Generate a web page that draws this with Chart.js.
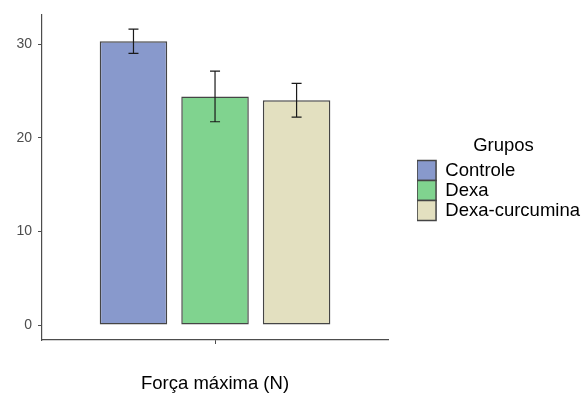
<!DOCTYPE html>
<html>
<head>
<meta charset="utf-8">
<script src="https://cdn.jsdelivr.net/npm/chart.js@4.4.1/dist/chart.umd.min.js"></script>
<style>
  html, body { margin: 0; padding: 0; background: #fff; }
  #wrap { width: 585px; height: 398px; }
</style>
</head>
<body>
<div id="wrap"><canvas id="myChart"></canvas></div>
<script>
var categories = [""];
var groups = ["Controle", "Dexa", "Dexa-curcumina"];
var means = [30.3, 24.4, 24.0];
var errors = [1.3, 2.7, 1.8];
var yTicks = [0, 10, 20, 30];

var barColors = ["#8899CC", "#80D38F", "#E3E0C0"];
var font = "'Liberation Sans', Arial, sans-serif";

// error bars drawn from the errors array through the y scale
var errorBars = {
  id: "errorBars",
  afterDatasetsDraw: function(chart) {
    var ctx = chart.ctx;
    var y = chart.scales.y;
    ctx.save();
    ctx.strokeStyle = "#1a1a1a";
    ctx.lineWidth = 1.2;
    chart.data.datasets.forEach(function(ds, i) {
      var bar = chart.getDatasetMeta(i).data[0];
      var top = y.getPixelForValue(ds.data[0] + errors[i]);
      var bot = y.getPixelForValue(ds.data[0] - errors[i]);
      ctx.beginPath();
      ctx.moveTo(bar.x, top); ctx.lineTo(bar.x, bot);
      ctx.moveTo(bar.x - 5, top); ctx.lineTo(bar.x + 5, top);
      ctx.moveTo(bar.x - 5, bot); ctx.lineTo(bar.x + 5, bot);
      ctx.stroke();
    });
    ctx.restore();
  }
};

new Chart("myChart", {
  type: "bar",
  data: {
    labels: categories,
    datasets: groups.map(function(g, i) {
      return {
        label: g,
        data: [means[i]],
        backgroundColor: barColors[i],
        borderColor: "#454545",
        borderWidth: 1.5,
        borderSkipped: false,
        categoryPercentage: 0.707,
        barPercentage: 0.828
      };
    })
  },
  options: {
    responsive: true,
    maintainAspectRatio: false,
    animation: false,
    layout: { padding: { top: 15, right: -5, bottom: 0, left: 0 } },
    plugins: {
      tooltip: { enabled: false },
      legend: {
        position: "right",
        fullSize: false,
        maxWidth: 300,
        labels: {
          boxWidth: 19,
          boxHeight: 20,
          padding: 0,
          color: "#000",
          font: { family: font, size: 18.5 }
        },
        title: {
          display: true,
          text: "Grupos",
          color: "#000",
          padding: 2,
          font: { family: font, size: 18.5 }
        }
      }
    },
    scales: {
      x: {
        grid: { display: true, drawOnChartArea: false, offset: false, tickLength: 4, color: "#4d4d4d" },
        border: { display: true, color: "#4d4d4d", width: 1.2 },
        ticks: { font: { family: font, size: 14 } },
        title: {
          display: true,
          text: "Força máxima (N)",
          color: "#000",
          padding: { top: 0, bottom: 3 },
          font: { family: font, size: 18.5 }
        },
        afterFit: function(s) { s.height = 58; }
      },
      y: {
        min: -1.6,
        max: 33.1,
        grid: { display: true, drawOnChartArea: false, tickLength: 4, color: "#4d4d4d" },
        border: { display: true, color: "#4d4d4d", width: 1.2 },
        ticks: { padding: 6, color: "#4d4d4d", font: { family: font, size: 14 } },
        afterBuildTicks: function(s) {
          s.ticks = yTicks.map(function(v) { return { value: v }; });
        },
        afterFit: function(s) { s.width = 42; }
      },
      gap: {
        type: "linear",
        position: "right",
        display: true,
        grid: { display: false },
        border: { display: false },
        ticks: { display: false },
        afterFit: function(s) { s.width = 29; }
      }
    }
  },
  plugins: [errorBars]
});
</script>
</body>
</html>
